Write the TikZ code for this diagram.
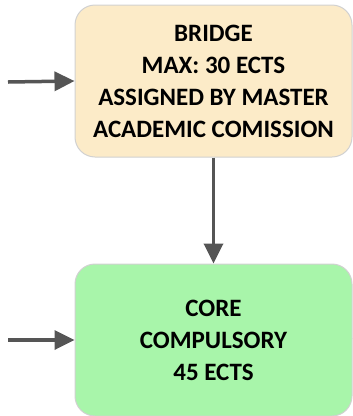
\documentclass[tikz,border=0pt]{standalone}
\usepackage{fontspec}
\setmainfont{Carlito}
\usetikzlibrary{arrows.meta,positioning}
\definecolor{bridgefill}{HTML}{FCEBC8}
\definecolor{corefill}{HTML}{A8F5AA}
\definecolor{arrgray}{HTML}{555555}
\tikzset{b/.style={draw=black!18,line width=1pt,rounded corners=20pt,align=center,font=\bfseries\fontsize{25}{32}\selectfont,minimum width=277pt,minimum height=152pt,inner sep=0pt},
 ar/.style={draw=arrgray,line width=3.5pt,-{Triangle[length=20pt,width=19pt]}}}

\begin{document}
\begin{tikzpicture}[x=1pt,y=1pt]
\useasboundingbox (0,0) rectangle (353,-416);
\node[b,fill=bridgefill](bridge) at (213.5,-81){BRIDGE\\MAX: 30 ECTS\\ASSIGNED BY MASTER\\ACADEMIC COMISSION};
\node[b,fill=corefill,below=106pt of bridge](core){CORE\\COMPULSORY\\45 ECTS};
\coordinate (inA) at (8,-82);\coordinate (inB) at (8,-340);\coordinate (outB) at (380,-340);
\draw[ar](inA)--(bridge.west);\draw[ar](bridge)--(core);\draw[ar](inB)--(core.west);
\draw[draw=arrgray,line width=3.5pt](core.east)--(outB);
\end{tikzpicture}
\end{document}
